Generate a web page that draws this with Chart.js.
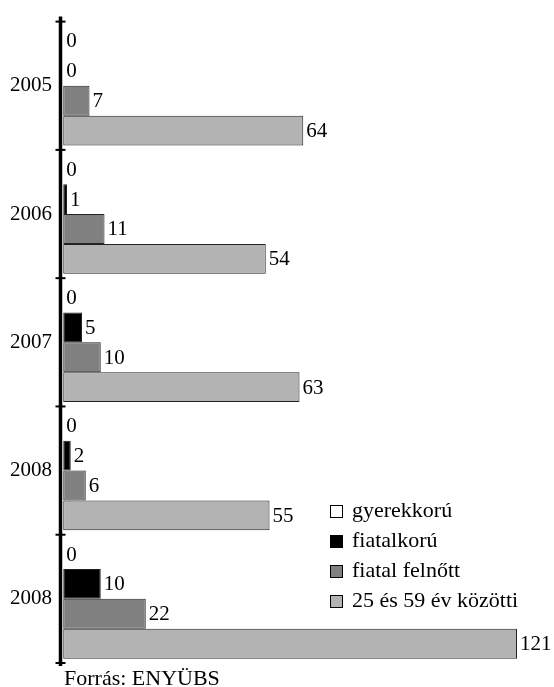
<!DOCTYPE html>
<html>
<head>
<meta charset="utf-8">
<script src="https://cdn.jsdelivr.net/npm/chart.js@4/dist/chart.umd.min.js"></script>
<style>
  body { margin: 0; background: #fff; }
  #wrap { position: relative; width: 554px; height: 687px; }
  #legend { position: absolute; left: 330px; top: 495px; font: 22px "Liberation Serif", "Times New Roman", serif; color: #000; }
  #legend div { height: 30px; line-height: 30px; white-space: nowrap; }
  #legend span.box { display: inline-block; width: 11px; height: 11px; border: 1px solid #000; margin-right: 9px; vertical-align: -1px; }
  #source { position: absolute; left: 64px; top: 666px; font: 22px "Liberation Serif", "Times New Roman", serif; color: #000; line-height: 24px; }
</style>
</head>
<body>
<div id="wrap">
  <canvas id="myChart" width="554" height="687"></canvas>
  <div id="legend"></div>
  <div id="source">Forrás: ENYÜBS</div>
</div>
<script>
// données
var categories = ["2005", "2006", "2007", "2008", "2008"];
var seriesLabels = ["gyerekkorú", "fiatalkorú", "fiatal felnőtt", "25 és 59 év közötti"];
var gyerekkoru = [0, 0, 0, 0, 0];
var fiatalkoru = [0, 1, 5, 2, 10];
var fiatalFelnott = [7, 11, 10, 6, 22];
var kozotti = [64, 54, 63, 55, 121];
var couleurs = ["#ffffff", "#000000", "#808080", "#b3b3b3"];

var serif = '"Liberation Serif", "Times New Roman", serif';
var valeurs = [gyerekkoru, fiatalkoru, fiatalFelnott, kozotti];

// étiquettes des valeurs au bout des barres
var labelsPlugin = {
  id: "valueLabels",
  afterDatasetsDraw: function (chart) {
    var ctx = chart.ctx;
    ctx.save();
    ctx.font = "21px " + serif;
    ctx.fillStyle = "#000";
    ctx.textAlign = "left";
    ctx.textBaseline = "middle";
    chart.data.datasets.forEach(function (ds, i) {
      var meta = chart.getDatasetMeta(i);
      meta.data.forEach(function (el, j) {
        ctx.fillText(String(ds.data[j]), el.x + 3, el.y + 1);
      });
    });
    ctx.restore();
  }
};

// axe vertical avec petites graduations
var axePlugin = {
  id: "axeVertical",
  afterDatasetsDraw: function (chart) {
    var ctx = chart.ctx;
    var a = chart.chartArea;
    var x = a.left - 0.5;
    ctx.save();
    ctx.strokeStyle = "#000";
    ctx.lineWidth = 3.5;
    ctx.beginPath();
    ctx.moveTo(x, a.top - 5);
    ctx.lineTo(x, a.bottom + 3);
    ctx.stroke();
    ctx.lineWidth = 2;
    var n = categories.length;
    for (var i = 0; i <= n; i++) {
      var y = a.top + i * (a.bottom - a.top) / n;
      ctx.beginPath();
      ctx.moveTo(x - 5, y);
      ctx.lineTo(x + 5, y);
      ctx.stroke();
    }
    ctx.restore();
  }
};

var datasets = seriesLabels.map(function (lab, i) {
  return {
    label: lab,
    data: valeurs[i],
    backgroundColor: couleurs[i],
    borderColor: "#222",
    borderWidth: i === 0 ? 0 : 1,
    borderSkipped: false,
    categoryPercentage: 0.932,
    barPercentage: 1.0
  };
});

var myChart = new Chart(document.getElementById("myChart"), {
  type: "bar",
  data: { labels: categories, datasets: datasets },
  options: {
    indexAxis: "y",
    responsive: false,
    animation: false,
    devicePixelRatio: 1,
    layout: { padding: { top: 19, bottom: 24, left: 0, right: 3.25 } },
    plugins: {
      legend: { display: false },
      tooltip: { enabled: false }
    },
    scales: {
      x: { display: false, min: -0.6, max: 130 },
      y: {
        afterFit: function (scale) { scale.width = 61; },
        grid: { display: false, drawTicks: false, tickLength: 0, offset: true },
        border: { display: false },
        ticks: { color: "#000", font: { family: serif, size: 21 }, padding: 9 }
      }
    }
  },
  plugins: [labelsPlugin, axePlugin]
});

// légende en html
var leg = document.getElementById("legend");
seriesLabels.forEach(function (lab, i) {
  var d = document.createElement("div");
  var b = document.createElement("span");
  b.className = "box";
  b.style.background = couleurs[i];
  d.appendChild(b);
  d.appendChild(document.createTextNode(lab));
  leg.appendChild(d);
});
</script>
</body>
</html>
